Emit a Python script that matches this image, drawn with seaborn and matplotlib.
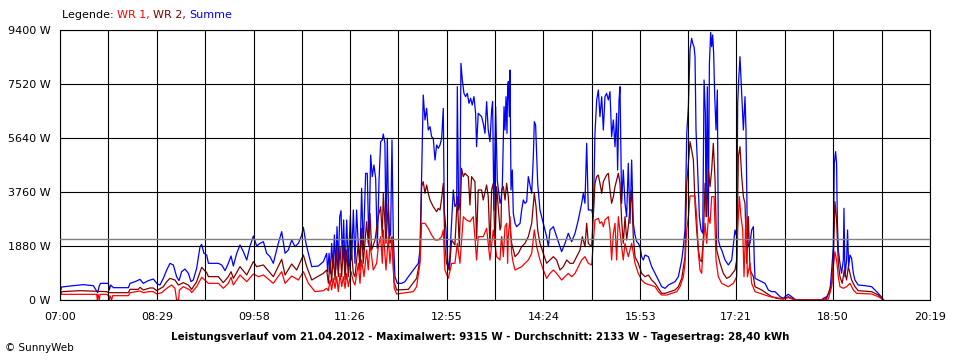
import matplotlib
matplotlib.use("Agg")
import matplotlib.pyplot as plt
import seaborn as sns
import pandas as pd

# Zeit in Minuten ab 07:00, Leistung in W
summe_pts = [
    (0, 232), (1.5, 452), (12.2, 499), (21.4, 534), (30.6, 499), (34.6, 255), (36.1, 499), (37.3, 580),
    (44.4, 580), (45.3, 348), (46.5, 522), (49.0, 429), (62.8, 429), (64.3, 580), (68.9, 638), (73.5, 719),
    (76.5, 580), (81.1, 673), (85.7, 731), (89.4, 557), (91.8, 522), (94.9, 754), (98.0, 1044), (101.0, 1276),
    (104.1, 1218), (107.1, 812), (109.3, 673), (111.7, 986), (114.8, 1079), (117.9, 928), (120.3, 638),
    (122.4, 696), (125.5, 1102), (128.6, 1857), (130.1, 1938), (132.2, 1625), (134.7, 1567),
    (136.3, 1277), (145.4, 1277), (148.5, 1219), (151.6, 1022), (154.6, 1277), (157.1, 1532), (159.2, 1184),
    (162.3, 1625), (165.3, 1915), (168.4, 1683), (171.5, 1393), (174.5, 1880), (177.6, 2228), (180.6, 1880),
    (183.7, 1973), (186.8, 2031), (189.8, 1625), (192.9, 1509), (195.9, 1277), (200.5, 1973), (203.6, 2379),
    (206.7, 1625), (209.7, 1741), (212.8, 2089), (215.8, 1857), (218.9, 1973), (222.0, 2263), (223.5, 2530),
    (225.9, 1973), (228.1, 1625), (231.2, 1161), (237.3, 1184), (241.9, 1335), (244.9, 1625), (245.8, 987),
    (247.1, 1625), (248.3, 929), (249.5, 1973), (250.7, 1103), (252.0, 2263), (253.2, 1045), (254.4, 2553),
    (255.6, 1161), (256.9, 2902), (258.1, 3110), (259.3, 1393), (260.5, 2786), (261.8, 987), (263.3, 2786),
    (264.8, 1161), (266.7, 2960), (267.9, 1393), (269.4, 3134),
    (270.9, 1277), (272.4, 3133), (274.0, 1857), (275.5, 1393), (277.0, 3888), (278.5, 1741), (280.7, 4410),
    (282.2, 4410), (283.7, 1857), (285.3, 5048), (286.8, 4294), (288.3, 4700), (289.9, 4236), (291.4, 1799),
    (293.0, 4178), (294.5, 5512), (296.0, 5570), (296.9, 5779), (298.4, 5454), (299.4, 2205), (300.6, 5628),
    (302.1, 2205), (303.6, 2263), (304.9, 5570), (306.1, 2205), (307.6, 812), (309.8, 580), (313.7, 580),
    (316.8, 638), (319.9, 812), (324.5, 1044), (329.1, 1277), (330.6, 1741), (332.1, 4294), (333.6, 7137),
    (335.2, 6267), (336.7, 6673), (338.2, 5919), (339.8, 6035), (341.3, 5686), (342.8, 5628), (344.4, 4874),
    (345.9, 5396), (347.4, 5280), (349.0, 5396), (350.5, 5628), (352.0, 6673), (352.9, 3133), (354.5, 2437),
    (356.0, 1393), (357.5, 1044), (359.1, 2321), (361.2, 3830), (362.7, 3249), (364.3, 3365), (364.9, 7427),
    (366.1, 3133), (367.3, 3365), (368.2, 8240), (369.5, 7659), (371.0, 7195), (372.5, 7079), (374.1, 7195),
    (375.6, 6847), (377.1, 7021), (378.6, 6789), (380.2, 7079), (381.7, 6499), (382.6, 5338), (384.1, 6499),
    (385.7, 6441), (387.2, 6383), (388.7, 6151), (390.3, 5802), (391.8, 6905), (393.3, 5919), (394.9, 5512),
    (396.4, 6615), (397.3, 6905), (398.5, 3133), (400.1, 6731), (401.6, 4178), (404.1, 3365),
    (405.0, 3482), (406.2, 3946), (407.8, 6731), (408.7, 5919), (409.6, 7079), (410.5, 5802), (411.1, 7311),
    (411.7, 7601), (412.7, 6383), (413.3, 8007), (414.2, 3830), (415.4, 4526), (416.3, 3017), (417.9, 2669),
    (419.4, 2553), (422.5, 2669), (424.0, 3133), (425.5, 3482), (427.0, 3365), (428.6, 3424), (430.1, 4294),
    (431.6, 4004), (433.2, 3714), (434.7, 4990), (435.6, 6209), (436.8, 6093), (437.8, 4990), (438.7, 4062),
    (440.8, 3133), (443.9, 2669), (446.9, 2205), (448.5, 1857), (450.0, 2437), (453.1, 2553), (456.1, 2205),
    (459.2, 1857), (460.7, 1683), (463.8, 1973), (466.8, 2321), (469.9, 2031), (473.0, 2321), (476.0, 2785),
    (479.1, 3365), (480.6, 3714), (482.1, 3365), (483.7, 5454), (485.2, 3133), (488.3, 3133), (489.8, 2901),
    (491.3, 5802), (492.9, 6963), (494.4, 7311), (495.9, 6383), (497.5, 7079), (499.0, 5919), (500.5, 7079),
    (502.0, 7195), (503.6, 6963), (505.1, 7253), (506.6, 5686), (508.2, 6267), (509.7, 5338), (511.2, 6499),
    (512.1, 4526), (513.4, 6963), (514.3, 7427), (515.8, 3365), (517.3, 4526), (518.9, 3365), (520.4, 2901),
    (521.9, 4758), (523.5, 2669), (525.0, 4874), (526.5, 2669), (528.1, 2263), (529.6, 2031), (531.1, 1973),
    (532.7, 1857), (534.2, 1509), (535.7, 1393),
    (537.3, 1567), (540.4, 1509), (543.4, 1161), (546.5, 928), (549.5, 696), (552.6, 464), (555.7, 406),
    (558.7, 522), (561.8, 580), (564.8, 638), (567.9, 812), (571.0, 1393), (572.5, 1857), (574.0, 2437),
    (575.6, 5802), (577.1, 6731), (578.6, 8704), (580.1, 9110), (581.1, 8936), (582.3, 8820), (583.2, 8472),
    (584.1, 5919), (585.4, 4758), (587.2, 2901), (588.7, 2437), (590.3, 2321), (591.5, 7659), (592.7, 6499),
    (593.3, 2901), (594.5, 7427), (595.5, 2901), (596.4, 8240), (597.6, 9315), (598.5, 8820), (599.4, 9226),
    (600.3, 8588), (601.3, 7079), (602.5, 5919), (603.7, 7311), (604.6, 2089), (606.2, 1857), (607.7, 1741),
    (610.8, 1393), (613.8, 1219), (616.9, 1393), (619.9, 2437), (621.5, 2205), (622.4, 6847), (623.3, 7659),
    (624.5, 8472), (626.1, 7195), (627.6, 5919), (629.1, 7079), (630.0, 5919), (631.3, 2089), (632.5, 1857),
    (633.7, 1973), (635.2, 2437), (636.8, 2553), (637.7, 1277), (638.3, 754), (641.4, 696), (644.4, 638),
    (647.5, 580), (650.5, 348), (653.6, 290), (656.7, 290), (658.2, 232), (661.3, 116), (664.3, 58),
    (666.0, 116), (668.9, 200), (671.9, 116), (675.0, 23), (678.0, 0), (699.5, 0), (701.0, 58), (704.1, 116),
    (707.1, 290), (708.7, 1044), (710.2, 1857), (711.1, 4758), (712.3, 5165), (713.2, 4758), (713.9, 2785),
    (714.8, 1741), (716.3, 1277), (717.8, 929), (719.4, 1393), (720.0, 3192), (720.9, 812), (722.4, 1393),
    (723.3, 2437), (724.3, 1161), (725.5, 1567), (727.0, 1451), (728.6, 929), (730.1, 696), (733.1, 522),
    (739.3, 499), (745.4, 464), (748.4, 348), (751.5, 232), (754.6, 93), (756.4, 0),
]

wr2_pts = [
    (0, 116), (1.5, 290), (18.4, 325), (42.9, 290), (44.4, 255), (62.8, 255), (64.3, 371), (71.9, 371),
    (73.5, 441), (76.5, 348), (82.6, 418), (85.7, 418), (88.8, 325), (94.9, 464), (98.0, 638), (101.0, 754),
    (105.6, 696), (108.7, 522), (113.3, 603), (117.9, 522), (120.9, 371), (125.5, 638), (130.1, 1137),
    (134.7, 951),
    (136.3, 813), (145.4, 813), (150.0, 604), (154.6, 813), (157.1, 987), (159.2, 755), (165.3, 1161),
    (171.5, 871), (177.6, 1335), (180.6, 1161), (186.8, 1219), (195.9, 813), (203.6, 1416), (206.7, 871),
    (212.8, 1254), (217.4, 1045), (223.5, 1567), (226.6, 1161), (231.2, 697), (241.9, 929), (244.9, 1045),
    (246.5, 581), (248.0, 1393), (249.5, 639), (251.0, 1625), (252.6, 697), (254.1, 1741), (255.6, 813),
    (257.2, 1857), (258.7, 813), (260.2, 1915), (261.8, 697), (263.3, 1741), (264.8, 813), (267.3, 1857),
    (269.4, 929),
    (270.9, 812), (274.0, 1973), (275.5, 1045), (277.0, 2495), (278.5, 1277), (281.6, 2727), (283.1, 1973),
    (284.7, 3017), (286.2, 1741), (289.3, 2089), (292.3, 2901), (294.5, 3249), (296.0, 2205), (296.9, 3714),
    (299.4, 1973), (301.5, 3365), (303.0, 1973), (304.9, 2205), (306.7, 638), (309.2, 348), (319.9, 371),
    (327.5, 754), (330.6, 1393), (332.1, 3946), (333.6, 4120), (335.2, 3714), (336.7, 4004), (338.2, 3714),
    (339.8, 3482), (342.8, 3249), (345.9, 3075), (347.4, 3191), (349.0, 3133), (350.5, 3540), (352.0, 4062),
    (353.5, 1857), (355.1, 1277), (357.5, 1044), (359.7, 2089), (362.7, 1915), (364.9, 3598), (366.7, 1857),
    (368.8, 4584), (370.4, 4294), (371.9, 4410), (375.0, 4294), (376.5, 3307), (378.0, 4294), (381.1, 4120),
    (382.6, 2089), (384.1, 3830), (387.2, 3830), (388.7, 3482), (391.8, 4004), (393.3, 3598), (394.9, 1857),
    (396.4, 3830), (397.9, 4062), (399.5, 1857), (401.0, 3946), (404.1, 2437),
    (405.0, 2553), (405.6, 3830), (407.2, 3946), (408.7, 3482), (410.2, 4062), (411.7, 3598), (413.3, 2553),
    (414.8, 1973), (416.3, 1741), (417.9, 1509), (420.9, 1625), (424.0, 1857), (427.0, 1973), (430.1, 2205),
    (433.2, 2669), (435.6, 3714), (437.2, 3249), (438.7, 2437), (440.8, 1973), (443.9, 1625), (446.9, 1277),
    (450.0, 1393), (453.1, 1509), (456.1, 1393), (459.2, 1044), (462.3, 1161), (465.3, 1393), (468.4, 1277),
    (471.4, 1277), (474.5, 1509), (477.6, 1741), (479.7, 2205), (482.1, 1857), (483.7, 2669), (485.2, 1973),
    (488.3, 1857), (491.3, 4062), (492.9, 4294), (494.4, 4352), (495.9, 4062), (497.5, 3714), (499.0, 4120),
    (502.0, 4352), (503.6, 4410), (505.1, 3830), (506.6, 3365), (508.2, 3598), (509.7, 3946), (512.8, 4410),
    (514.3, 4062), (515.8, 2785), (517.3, 1973), (518.9, 2901), (520.4, 2089), (521.9, 2553), (525.0, 3830),
    (526.5, 2205), (528.1, 1509), (531.1, 1277), (534.2, 928), (537.3, 812),
    (540.4, 870), (543.4, 696), (546.5, 580), (549.5, 406), (552.6, 232), (555.7, 232), (560.3, 290),
    (564.8, 348), (567.9, 464), (571.0, 754), (574.0, 1509), (575.6, 4062), (577.1, 4758), (578.6, 5512),
    (580.1, 5222), (581.7, 4874), (583.2, 3365), (584.7, 2437), (586.3, 1741), (587.8, 1393), (589.3, 1335),
    (590.9, 2205), (592.4, 4062), (593.9, 2901), (595.5, 4526), (597.0, 3946), (598.5, 4526), (600.0, 5454),
    (601.6, 4178), (603.1, 1741), (606.2, 1277), (609.2, 928), (612.3, 754), (615.3, 812), (619.9, 1044),
    (621.5, 1393), (623.0, 4990), (624.5, 5338), (626.1, 4294), (627.6, 3598), (629.1, 3365), (630.7, 1277),
    (632.2, 2901), (633.7, 1044), (636.8, 812), (638.3, 464), (641.4, 406), (644.4, 348), (649.0, 232),
    (653.6, 116), (658.2, 58), (664.3, 35), (668.9, 116), (675.0, 0), (699.5, 0), (704.1, 58), (708.7, 580),
    (710.2, 1393), (711.7, 3424), (713.2, 2785), (714.8, 1277), (716.3, 813), (718.4, 581), (720.3, 1045),
    (722.4, 697), (724.0, 1161), (725.5, 929), (727.0, 697), (730.1, 465), (733.1, 325), (745.4, 290),
    (751.5, 174), (756.4, 0),
]

wr1_pts = [
    (0.9, 197), (33.7, 197), (34.3, 0), (34.9, 197), (36.1, 0), (36.7, 197), (42.9, 197), (44.4, 151),
    (45.3, 0), (45.9, 151), (47.4, 0), (48.4, 151), (62.8, 151), (64.3, 255), (73.5, 313), (76.5, 255),
    (81.1, 290), (85.7, 290), (88.8, 209), (93.4, 255), (98.0, 406), (102.5, 522), (105.6, 406), (107.1, 0),
    (109.0, 0), (109.6, 348), (113.3, 464), (119.4, 348), (120.9, 255), (125.5, 464), (130.1, 789),
    (134.7, 638),
    (136.3, 581), (145.4, 581), (150.0, 407), (154.6, 581), (157.1, 790), (159.2, 523), (165.3, 871),
    (171.5, 639), (177.6, 906), (182.2, 813), (186.8, 871), (195.9, 581), (203.6, 987), (206.7, 581),
    (212.8, 836), (218.9, 697), (223.5, 987), (228.1, 581), (234.2, 291), (241.9, 325), (244.9, 407),
    (246.5, 325), (248.0, 697), (249.5, 349), (251.0, 755), (252.6, 407), (254.1, 813), (255.6, 291),
    (257.2, 929), (258.7, 465), (260.2, 813), (261.8, 407), (263.3, 929), (264.8, 465), (267.3, 987),
    (269.4, 639),
    (270.9, 522), (274.0, 1277), (275.5, 580), (277.0, 1393), (279.2, 812), (281.6, 1741), (283.1, 1045),
    (284.7, 1973), (287.7, 1045), (290.8, 1277), (292.3, 1857), (294.5, 2205), (296.0, 1277), (296.9, 2437),
    (299.4, 1045), (301.5, 2205), (303.0, 1277), (304.9, 2147), (307.0, 406), (309.2, 209), (324.5, 290),
    (327.5, 464), (330.6, 1277), (332.1, 2669), (335.2, 2669), (338.2, 2495), (341.3, 2263), (344.4, 2089),
    (347.4, 2089), (350.5, 2205), (352.0, 2437), (353.5, 1045), (356.6, 754), (359.7, 1277), (362.7, 1277),
    (364.9, 1973), (367.3, 1277), (370.4, 2901), (373.4, 2785), (376.5, 2727), (379.6, 2901), (382.6, 1393),
    (384.1, 2205), (388.7, 2205), (391.8, 2495), (394.9, 1393), (397.9, 2437), (401.0, 1509), (404.1, 1393),
    (405.0, 1973), (405.6, 2205), (407.2, 1509), (408.7, 2553), (410.2, 2669), (411.1, 1277), (411.7, 2205),
    (413.3, 2901), (414.8, 1625), (416.3, 1277), (417.9, 1044), (424.0, 1161), (427.0, 1277), (430.1, 1393),
    (433.2, 1625), (435.6, 2437), (437.8, 1857), (440.8, 1393), (443.9, 1044), (446.9, 754), (450.0, 928),
    (453.1, 1044), (456.1, 928), (460.7, 696), (463.8, 812), (466.8, 928), (469.9, 812), (473.0, 928),
    (476.0, 1161), (479.1, 1393), (482.1, 1509), (485.2, 1277), (488.3, 1219), (491.3, 2785), (494.4, 2843),
    (495.9, 2669), (497.5, 2727), (499.0, 2553), (500.5, 2785), (503.6, 2901), (505.1, 2437), (506.6, 1393),
    (508.2, 2321), (509.7, 2669), (511.2, 1393), (512.8, 2901), (515.8, 1857), (517.3, 1393), (518.9, 1973),
    (521.9, 1509), (525.0, 1973), (528.1, 1277), (531.1, 928), (534.2, 696), (537.3, 580),
    (541.9, 522), (546.5, 464), (549.5, 290), (552.6, 174), (557.2, 174), (561.8, 232), (566.4, 290),
    (569.4, 464), (572.5, 812), (574.0, 1277), (575.6, 2437), (577.1, 2901), (578.6, 3621), (583.2, 3621),
    (584.7, 2901), (586.3, 1625), (587.8, 1044), (589.3, 928), (590.9, 1973), (592.4, 2669), (593.9, 1973),
    (595.5, 2901), (597.0, 2669), (598.5, 3598), (600.7, 3598), (602.5, 1393), (604.6, 812), (607.7, 580),
    (610.8, 522), (613.8, 464), (618.4, 580), (621.5, 812), (622.4, 2437), (623.9, 3598), (625.4, 2901),
    (627.0, 2437), (628.2, 812), (630.0, 2901), (631.3, 812), (633.7, 1277), (635.2, 580), (638.3, 290),
    (642.9, 232), (647.5, 174), (652.1, 116), (661.3, 58), (664.3, 35), (668.9, 81), (675.0, 0), (699.5, 0),
    (705.6, 35), (708.7, 465), (710.2, 1161), (711.7, 1683), (713.2, 1393), (714.8, 813), (716.3, 465),
    (719.4, 407), (722.4, 465), (725.5, 581), (728.6, 349), (731.6, 232), (745.4, 209), (751.5, 116),
    (756.4, 0),
]

x_labels = ["07:00", "08:29", "09:58", "11:26", "12:55", "14:24", "15:53", "17:21", "18:50", "20:19"]
y_ticks = [0, 1880, 3760, 5640, 7520, 9400]
durchschnitt = 2133
titel = ("Leistungsverlauf vom 21.04.2012 - Maximalwert: 9315 W - "
         "Durchschnitt: 2133 W - Tagesertrag: 28,40 kWh")

farben = {"Summe": "#0000FF", "WR 2": "#800000", "WR 1": "#FF0000"}

rows = []
for name, pts in [("Summe", summe_pts), ("WR 2", wr2_pts), ("WR 1", wr1_pts)]:
    for t, w in pts:
        rows.append((name, t, w))
df = pd.DataFrame(rows, columns=["serie", "minute", "leistung"])

sns.set_theme(style="white")
plt.rcParams["font.family"] = ["DejaVu Sans"]

fig = plt.figure(figsize=(9.6, 3.6), dpi=100)
ax = fig.add_axes([60 / 960, 60 / 360, 870 / 960, 270 / 360])

sns.lineplot(data=df, x="minute", y="leistung", hue="serie",
             hue_order=["Summe", "WR 2", "WR 1"], palette=farben,
             estimator=None, linewidth=0.9, legend=False, ax=ax)

ax.axhline(durchschnitt, color="#808080", linewidth=1.0, zorder=3)

# Achsen: Minuten ab 07:00
major = [(int(s[:2]) - 7) * 60 + int(s[3:]) for s in x_labels]
minor = [(a + b) / 2 for a, b in zip(major[:-1], major[1:])]
ax.set_xlim(0, major[-1])
ax.set_ylim(0, y_ticks[-1])
ax.set_xticks(major)
ax.set_xticklabels(x_labels, fontsize=8)
ax.set_xticks(minor, minor=True)
ax.set_yticks(y_ticks)
ax.set_yticklabels([f"{v} W" for v in y_ticks], fontsize=8)
ax.set_xlabel("")
ax.set_ylabel("")

ax.set_axisbelow(False)
ax.grid(True, which="both", axis="x", color="black", linewidth=0.8)
ax.grid(True, which="major", axis="y", color="black", linewidth=0.8)
ax.tick_params(axis="both", which="both", direction="out", length=4, width=0.8,
               color="black", labelcolor="black", pad=3)
ax.tick_params(axis="x", which="major", pad=5)
for sp in ax.spines.values():
    sp.set_color("black")
    sp.set_linewidth(0.8)

fig.text(0.5, 1 - 337 / 360, titel, ha="center", va="center",
         fontsize=7.4, fontweight="bold", color="black")
fig.text(5 / 960, 1 - 348 / 360, "© SunnyWeb", ha="left", va="center",
         fontsize=7.5, color="black")

# Legende als farbige Textstücke
fig.canvas.draw()
renderer = fig.canvas.get_renderer()
x = 62 / 960
for txt, col in [("Legende: ", "black"), ("WR 1, ", farben["WR 1"]),
                 ("WR 2, ", farben["WR 2"]), ("Summe", farben["Summe"])]:
    t = fig.text(x, 1 - 15 / 360, txt, ha="left", va="center", fontsize=8, color=col)
    bb = t.get_window_extent(renderer=renderer)
    x += bb.width / fig.bbox.width

fig.savefig("out.png", dpi=100)
